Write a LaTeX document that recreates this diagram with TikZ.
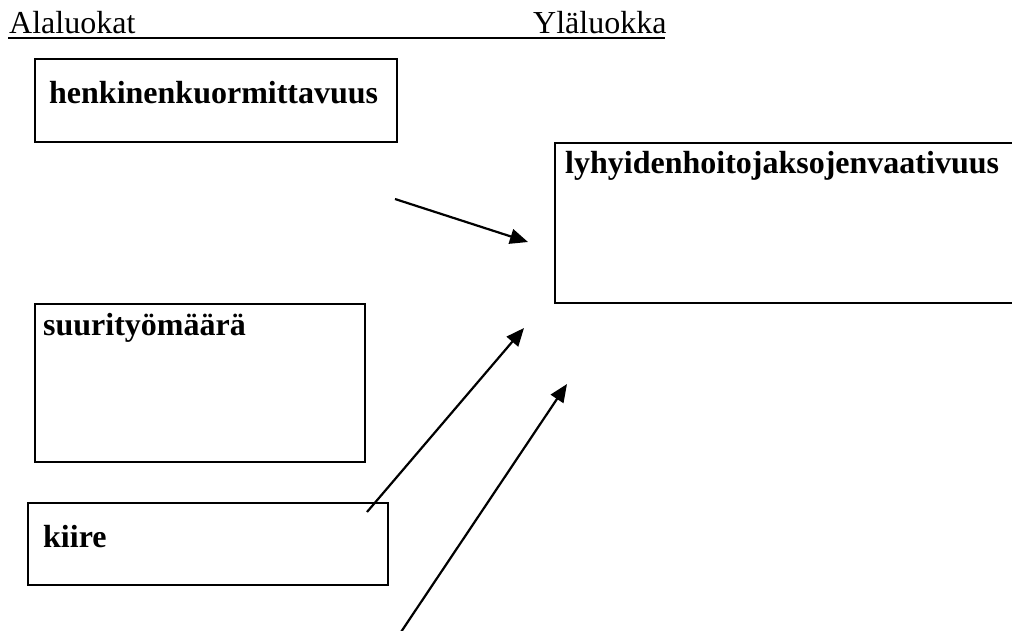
\documentclass[tikz,border=0pt]{standalone}
\usepackage{fontspec}
\setmainfont{Liberation Serif}
\usetikzlibrary{arrows.meta}
\begin{document}
\begin{tikzpicture}[x=1pt,y=-1pt,
  txt/.style={anchor=base west,inner sep=0pt,font=\fontsize{32}{38}\selectfont},
  btxt/.style={txt,font=\fontsize{32}{38}\selectfont\bfseries},
  frame/.style={draw,line width=2.4pt},
  link/.style={line width=2.2pt,-{Triangle[length=18pt,width=15pt]}}]
\useasboundingbox (0,0) rectangle (1012,630);
\clip (0,0) rectangle (1012,630);

% column headings with their underline
\node[txt] (lower) at (9,33) {Alaluokat};
\node[txt] (upper) at (533,33) {Yläluokka};
\coordinate (ulA) at (8,38);
\coordinate (ulB) at (665,38);
\draw[line width=2.4pt] (ulA) -- (ulB);

% frames
\draw[frame] (35,59) rectangle (397,142);
\draw[frame] (555,143) rectangle (1040,303);
\draw[frame] (35,304) rectangle (365,462);
\draw[frame] (28,503) rectangle (388,585);

% labels
\node[btxt] (henk) at (49,103) {henkinenkuormittavuus};
\node[btxt] (lyh) at (565,173) {lyhyidenhoitojaksojenvaativuus};
\node[btxt] (suuri) at (43,335) {suurityömäärä};
\node[btxt] (kiire) at (43,547) {kiire};

% arrows
\coordinate (a1s) at (395,199);
\coordinate (a1e) at (528,242);
\coordinate (a2s) at (367,512);
\coordinate (a2e) at (524,328);
\coordinate (a3s) at (401,632);
\coordinate (a3e) at (567,384);
\draw[link] (a1s) -- (a1e);
\draw[link] (a2s) -- (a2e);
\draw[link] (a3s) -- (a3e);
\end{tikzpicture}
\end{document}
